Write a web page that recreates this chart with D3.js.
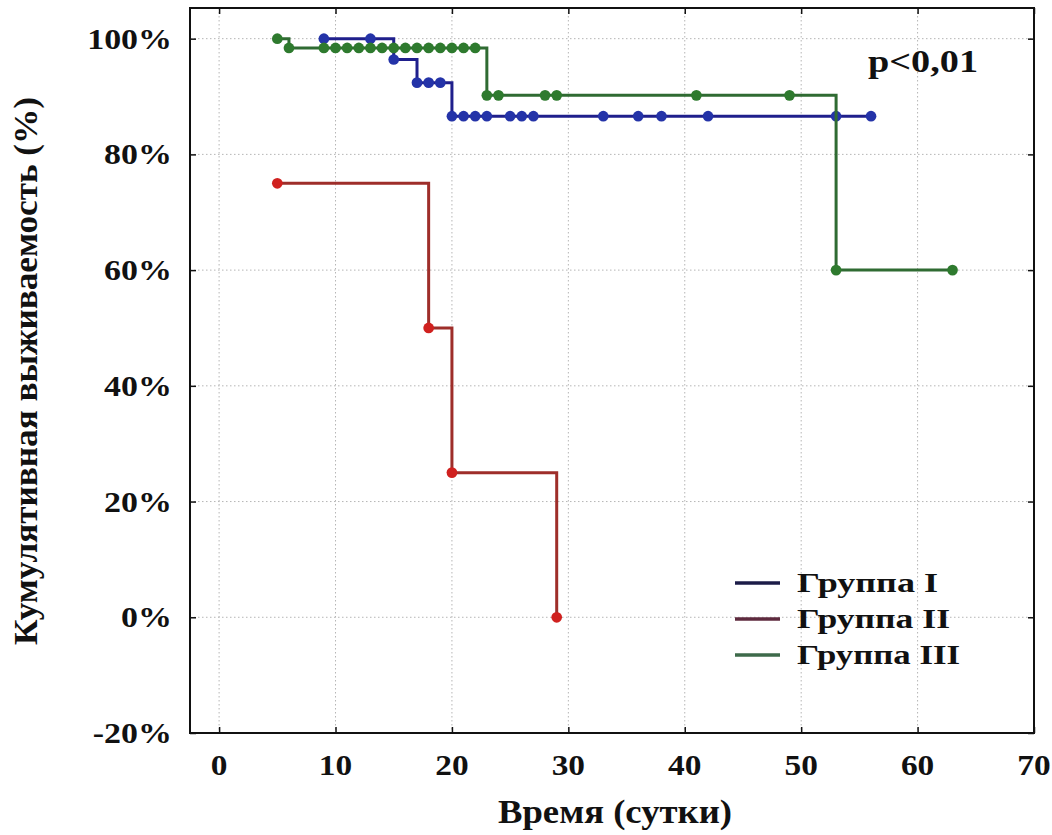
<!DOCTYPE html>
<html>
<head>
<meta charset="utf-8">
<script src="https://cdn.jsdelivr.net/npm/d3@7"></script>
<style>
  html, body { margin: 0; padding: 0; background: #fff; }
  svg { display: block; }
</style>
</head>
<body>
<script>
// ---- Data ----
const groupNames = ["Группа I", "Группа II", "Группа III"];

// Group I (step function: time, cumulative survival %)
const g1Times = [9, 15, 17, 20, 56];
const g1Surv  = [100, 96.4, 92.4, 86.6, 86.6];
const g1Marks = [9, 13, 15, 17, 18, 19, 20, 21, 22, 23, 25, 26, 27, 33, 36, 38, 42, 53, 56];

// Group II
const g2Times = [5, 18, 20, 29];
const g2Surv  = [75, 50, 25, 0];
const g2Marks = [5, 18, 20, 29];

// Group III
const g3Times = [5, 6, 23, 53, 63];
const g3Surv  = [100, 98.4, 90.2, 60, 60];
const g3Marks = [5, 6, 9, 10, 11, 12, 13, 14, 15, 16, 17, 18, 19, 20, 21, 22, 23, 24, 28, 29, 41, 49, 53, 63];

const xTicks = [0, 10, 20, 30, 40, 50, 60, 70];
const yTicks = [-20, 0, 20, 40, 60, 80, 100];
const pText = "p<0,01";
const xTitle = "Время (сутки)";
const yTitle = "Кумулятивная выживаемость (%)";

// ---- Styles ----
const lineColors   = ["#1f1f8c", "#9e2e2a", "#2f6b32"];
const markerColors = ["#2433a8", "#d0211f", "#2e7a2e"];
const legendColors = ["#1c1c48", "#5e2a3e", "#3d6a4a"];

const W = 1052, H = 835;
const pL = 190, pR = 1034, pT = 8, pB = 733;

const svg = d3.select("body").append("svg")
  .attr("width", W).attr("height", H)
  .style("font-family", "'Liberation Serif', 'Times New Roman', serif");

svg.append("rect").attr("width", W).attr("height", H).attr("fill", "#fff");

const x = d3.scaleLinear().domain([-2.5, 70]).range([pL, pR]);
const y = d3.scaleLinear().domain([-20, 105.3]).range([pB, pT]);

// stretch text glyphs horizontally by a factor
function stretch(sel, f) {
  sel.each(function () {
    const len = this.getComputedTextLength();
    d3.select(this).attr("textLength", len * f).attr("lengthAdjust", "spacingAndGlyphs");
  });
}

// Grid
const grid = svg.append("g").attr("stroke", "#b5b5b5").attr("stroke-width", 1)
  .attr("stroke-dasharray", "1.5,2.5");
grid.selectAll("line.v").data(xTicks.filter(t => t < 70)).join("line")
  .attr("class", "v")
  .attr("x1", d => x(d)).attr("x2", d => x(d))
  .attr("y1", pT).attr("y2", pB);
grid.selectAll("line.h").data(yTicks.filter(t => t > -20)).join("line")
  .attr("class", "h")
  .attr("x1", pL).attr("x2", pR)
  .attr("y1", d => y(d)).attr("y2", d => y(d));

// Axes (ticks inward on all four sides)
const tickLen = 6;
const axB = svg.append("g").attr("transform", `translate(0,${pB})`)
  .call(d3.axisBottom(x).tickValues(xTicks).tickSize(-tickLen).tickFormat(""));
const axT = svg.append("g").attr("transform", `translate(0,${pT})`)
  .call(d3.axisTop(x).tickValues(xTicks).tickSize(-tickLen).tickFormat(""));
const axL = svg.append("g").attr("transform", `translate(${pL},0)`)
  .call(d3.axisLeft(y).tickValues(yTicks).tickSize(-tickLen).tickFormat(""));
const axR = svg.append("g").attr("transform", `translate(${pR},0)`)
  .call(d3.axisRight(y).tickValues(yTicks).tickSize(-tickLen).tickFormat(""));
[axB, axT, axL, axR].forEach(a => {
  a.select(".domain").remove();
  a.selectAll(".tick line").attr("stroke", "#111").attr("stroke-width", 1.5);
});

// Frame
svg.append("rect").attr("x", pL).attr("y", pT)
  .attr("width", pR - pL).attr("height", pB - pT)
  .attr("fill", "none").attr("stroke", "#111").attr("stroke-width", 2);

// Tick labels
const xl = svg.append("g").selectAll("text").data(xTicks).join("text")
  .attr("x", d => x(d)).attr("y", 775)
  .attr("text-anchor", "middle")
  .attr("font-size", 29).attr("font-weight", "bold")
  .attr("fill", "#111")
  .text(d => d);
stretch(xl, 1.15);

const yl = svg.append("g").selectAll("text").data(yTicks).join("text")
  .attr("x", 172).attr("y", d => y(d) + 10)
  .attr("text-anchor", "end")
  .attr("font-size", 29).attr("font-weight", "bold")
  .attr("fill", "#111")
  .text(d => d + "%");
stretch(yl, 1.17);

// Titles
svg.append("text")
  .attr("x", 615).attr("y", 823)
  .attr("text-anchor", "middle")
  .attr("font-size", 33).attr("font-weight", "bold").attr("fill", "#111")
  .attr("textLength", 234).attr("lengthAdjust", "spacingAndGlyphs")
  .text(xTitle);

svg.append("text")
  .attr("transform", "translate(37,371) rotate(-90)")
  .attr("text-anchor", "middle")
  .attr("font-size", 33).attr("font-weight", "bold").attr("fill", "#111")
  .attr("textLength", 548).attr("lengthAdjust", "spacingAndGlyphs")
  .text(yTitle);

svg.append("text")
  .attr("x", 868).attr("y", 72)
  .attr("font-size", 32).attr("font-weight", "bold").attr("fill", "#111")
  .attr("textLength", 110).attr("lengthAdjust", "spacingAndGlyphs")
  .text(pText);

// Curves
const groups = [
  { times: g1Times, surv: g1Surv, marks: g1Marks },
  { times: g2Times, surv: g2Surv, marks: g2Marks },
  { times: g3Times, surv: g3Surv, marks: g3Marks }
];
const line = d3.line().x(d => x(d[0])).y(d => y(d[1])).curve(d3.curveStepAfter);
const bis = d3.bisector(d => d).right;

// Draw order: red, blue, green
[1, 0, 2].forEach(i => {
  const g = groups[i];
  const pts = g.times.map((t, k) => [t, g.surv[k]]);
  svg.append("path").datum(pts)
    .attr("d", line).attr("fill", "none")
    .attr("stroke", lineColors[i]).attr("stroke-width", 3)
    .attr("stroke-linejoin", "miter");
  const markPts = g.marks.map(t => {
    const k = Math.max(0, bis(g.times, t) - 1);
    return [t, g.surv[k]];
  });
  svg.append("g").selectAll("path").data(markPts).join("path")
    .attr("transform", d => `translate(${x(d[0])},${y(d[1])})`)
    .attr("d", d3.symbol().type(d3.symbolCircle).size(90))
    .attr("fill", markerColors[i]);
});

// Legend
const leg = svg.append("g");
const legLens = [141, 153, 163];
groupNames.forEach((name, i) => {
  const ly = 583 + i * 36;
  leg.append("line").attr("x1", 735).attr("x2", 780).attr("y1", ly).attr("y2", ly)
    .attr("stroke", legendColors[i]).attr("stroke-width", 3.5);
  leg.append("text").attr("x", 797).attr("y", ly + 9)
    .attr("font-size", 27).attr("font-weight", "bold").attr("fill", "#111")
    .attr("textLength", legLens[i]).attr("lengthAdjust", "spacingAndGlyphs")
    .text(name);
});
</script>
</body>
</html>
